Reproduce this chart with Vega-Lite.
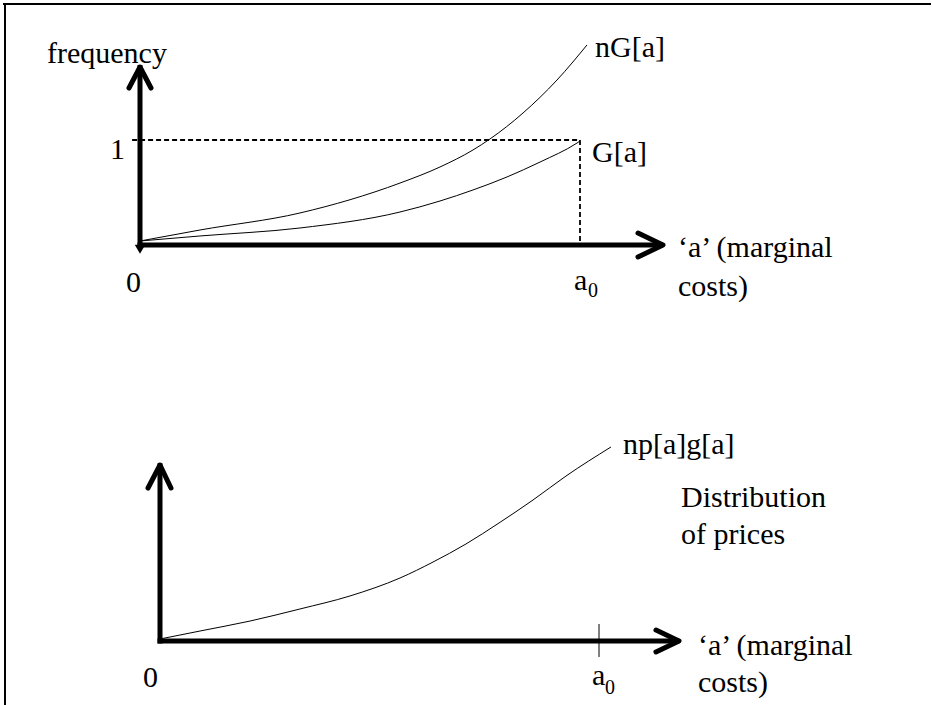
{
  "$schema": "https://vega.github.io/schema/vega-lite/v6.json",
  "usermeta": {"embedOptions": {"actions": false}},
  "padding": 0,
  "spacing": 0,
  "bounds": "flush",
  "background": "white",
  "config": {"view": {"stroke": null}, "text": {"font": "Liberation Serif"}},
  "resolve": {"scale": {"x": "independent", "y": "independent"}},
  "datasets": {
    "segs": [
      {"panel": "A", "kind": "frame", "x": -0.3114, "y": 2.29524, "x2": 1.7977, "y2": 2.29524},
      {"panel": "A", "kind": "frame", "x": -0.30682, "y": 2.305, "x2": -0.30682, "y2": -1.03},
      {"panel": "A", "kind": "axis", "x": 0, "y": 0, "x2": 0, "y2": 1.69},
      {"panel": "A", "kind": "axis", "x": 0, "y": 0, "x2": 1.183, "y2": 0},
      {"panel": "A", "kind": "guide", "x": -0.018, "y": 1, "x2": 1, "y2": 1},
      {"panel": "A", "kind": "guide", "x": 1, "y": 1, "x2": 1, "y2": 0},
      {"panel": "B", "kind": "frame", "x": -0.35308, "y": 2.77, "x2": -0.35308, "y2": -0.609},
      {"panel": "B", "kind": "axis", "x": 0, "y": 0, "x2": 0, "y2": 1.67},
      {"panel": "B", "kind": "axis", "x": 0, "y": 0, "x2": 1.177, "y2": 0},
      {"panel": "B", "kind": "tick", "x": 1, "y": 0.162, "x2": 1, "y2": -0.152}
    ],
    "arrows": [
      {"panel": "A", "arrow": "up", "order": 1, "x": -0.025, "y": 1.495},
      {"panel": "A", "arrow": "up", "order": 2, "x": 0, "y": 1.695},
      {"panel": "A", "arrow": "up", "order": 3, "x": 0.025, "y": 1.495},
      {"panel": "A", "arrow": "right", "order": 1, "x": 1.1318, "y": 0.114},
      {"panel": "A", "arrow": "right", "order": 2, "x": 1.1886, "y": 0},
      {"panel": "A", "arrow": "right", "order": 3, "x": 1.1318, "y": -0.114},
      {"panel": "B", "arrow": "up", "order": 1, "x": -0.0273, "y": 1.457},
      {"panel": "B", "arrow": "up", "order": 2, "x": 0, "y": 1.676},
      {"panel": "B", "arrow": "up", "order": 3, "x": 0.025, "y": 1.457},
      {"panel": "B", "arrow": "right", "order": 1, "x": 1.1298, "y": 0.1048},
      {"panel": "B", "arrow": "right", "order": 2, "x": 1.1822, "y": 0},
      {"panel": "B", "arrow": "right", "order": 3, "x": 1.1298, "y": -0.1048}
    ],
    "curves": [
      {"panel": "A", "curve": "nG", "x": 0, "y": 0.038},
      {"panel": "A", "curve": "nG", "x": 0.1364, "y": 0.143},
      {"panel": "A", "curve": "nG", "x": 0.3636, "y": 0.305},
      {"panel": "A", "curve": "nG", "x": 0.5909, "y": 0.59},
      {"panel": "A", "curve": "nG", "x": 0.6818, "y": 0.743},
      {"panel": "A", "curve": "nG", "x": 0.7568, "y": 0.905},
      {"panel": "A", "curve": "nG", "x": 0.7955, "y": 1.01},
      {"panel": "A", "curve": "nG", "x": 0.8705, "y": 1.257},
      {"panel": "A", "curve": "nG", "x": 0.9477, "y": 1.571},
      {"panel": "A", "curve": "nG", "x": 1.0159, "y": 1.905},
      {"panel": "A", "curve": "G", "x": 0, "y": 0.038},
      {"panel": "A", "curve": "G", "x": 0.1364, "y": 0.086},
      {"panel": "A", "curve": "G", "x": 0.3636, "y": 0.162},
      {"panel": "A", "curve": "G", "x": 0.5909, "y": 0.314},
      {"panel": "A", "curve": "G", "x": 0.6818, "y": 0.419},
      {"panel": "A", "curve": "G", "x": 0.7568, "y": 0.524},
      {"panel": "A", "curve": "G", "x": 0.8341, "y": 0.648},
      {"panel": "A", "curve": "G", "x": 0.9091, "y": 0.79},
      {"panel": "A", "curve": "G", "x": 0.9932, "y": 0.971},
      {"panel": "A", "curve": "G", "x": 1.0, "y": 0.99},
      {"panel": "B", "curve": "npg", "x": 0, "y": 0.019},
      {"panel": "B", "curve": "npg", "x": 0.0911, "y": 0.095},
      {"panel": "B", "curve": "npg", "x": 0.2050, "y": 0.190},
      {"panel": "B", "curve": "npg", "x": 0.3189, "y": 0.305},
      {"panel": "B", "curve": "npg", "x": 0.4328, "y": 0.429},
      {"panel": "B", "curve": "npg", "x": 0.5467, "y": 0.600},
      {"panel": "B", "curve": "npg", "x": 0.6219, "y": 0.752},
      {"panel": "B", "curve": "npg", "x": 0.697, "y": 0.924},
      {"panel": "B", "curve": "npg", "x": 0.7722, "y": 1.124},
      {"panel": "B", "curve": "npg", "x": 0.8497, "y": 1.343},
      {"panel": "B", "curve": "npg", "x": 0.9248, "y": 1.571},
      {"panel": "B", "curve": "npg", "x": 1.0273, "y": 1.848}
    ],
    "markers": [
      {"panel": "A", "x": 0, "y": -0.04}
    ],
    "labels": [
      {"panel": "A", "role": "main", "text": "frequency", "x": -0.2114, "y": 1.7333},
      {"panel": "A", "role": "main", "text": "1", "x": -0.068, "y": 0.819},
      {"panel": "A", "role": "main", "text": "0", "x": -0.0318, "y": -0.4476},
      {"panel": "A", "role": "main", "text": "a", "x": 0.9864, "y": -0.4286},
      {"panel": "A", "role": "sub", "text": "0", "x": 1.018, "y": -0.495},
      {"panel": "A", "role": "main", "text": "‘a’ (marginal", "x": 1.2227, "y": -0.1143},
      {"panel": "A", "role": "main", "text": "costs)", "x": 1.2227, "y": -0.4857},
      {"panel": "A", "role": "main", "text": "nG[a]", "x": 1.0341, "y": 1.79},
      {"panel": "A", "role": "main", "text": "G[a]", "x": 1.0273, "y": 0.7905},
      {"panel": "B", "role": "main", "text": "0", "x": -0.0387, "y": -0.438},
      {"panel": "B", "role": "main", "text": "a", "x": 0.984, "y": -0.419},
      {"panel": "B", "role": "sub", "text": "0", "x": 1.0137, "y": -0.505},
      {"panel": "B", "role": "main", "text": "‘a’ (marginal", "x": 1.2255, "y": -0.1333},
      {"panel": "B", "role": "main", "text": "costs)", "x": 1.2255, "y": -0.4857},
      {"panel": "B", "role": "main", "text": "np[a]g[a]", "x": 1.0547, "y": 1.781},
      {"panel": "B", "role": "main", "text": "Distribution", "x": 1.1868, "y": 1.276},
      {"panel": "B", "role": "main", "text": "of prices", "x": 1.1868, "y": 0.924}
    ]
  },
  "vconcat": [
    {
      "width": 932,
      "height": 352,
      "encoding": {
        "x": {"field": "x", "type": "quantitative", "axis": null, "scale": {"domain": [0, 1], "range": [140, 580], "zero": false, "nice": false}},
        "y": {"field": "y", "type": "quantitative", "axis": null, "scale": {"domain": [0, 1], "range": [245, 140], "zero": false, "nice": false}}
      },
      "layer": [
        {
          "data": {"name": "segs"},
          "transform": [{"filter": "datum.panel === 'A' && datum.kind === 'frame'"}],
          "mark": {"type": "rule", "color": "black", "strokeWidth": 2},
          "encoding": {"x2": {"field": "x2"}, "y2": {"field": "y2"}}
        },
        {
          "data": {"name": "segs"},
          "transform": [{"filter": "datum.panel === 'A' && datum.kind === 'guide'"}],
          "mark": {"type": "rule", "color": "black", "strokeWidth": 1.8, "strokeDash": [5, 3]},
          "encoding": {"x2": {"field": "x2"}, "y2": {"field": "y2"}}
        },
        {
          "data": {"name": "curves"},
          "transform": [{"filter": "datum.panel === 'A'"}],
          "mark": {"type": "line", "color": "black", "strokeWidth": 1, "interpolate": "monotone"},
          "encoding": {"detail": {"field": "curve"}}
        },
        {
          "data": {"name": "segs"},
          "transform": [{"filter": "datum.panel === 'A' && datum.kind === 'axis'"}],
          "mark": {"type": "rule", "color": "black", "strokeWidth": 5, "strokeCap": "square"},
          "encoding": {"x2": {"field": "x2"}, "y2": {"field": "y2"}}
        },
        {
          "data": {"name": "arrows"},
          "transform": [{"filter": "datum.panel === 'A'"}],
          "mark": {"type": "line", "color": "black", "strokeWidth": 5, "strokeCap": "round", "strokeJoin": "round"},
          "encoding": {"detail": {"field": "arrow"}, "order": {"field": "order"}}
        },
        {
          "data": {"name": "markers"},
          "transform": [{"filter": "datum.panel === 'A'"}],
          "mark": {"type": "point", "shape": "triangle-down", "filled": true, "color": "black", "size": 110, "opacity": 1}
        },
        {
          "data": {"name": "labels"},
          "transform": [{"filter": "datum.panel === 'A' && datum.role === 'main'"}],
          "mark": {"type": "text", "align": "left", "baseline": "alphabetic", "fontSize": 30, "color": "black", "font": "Liberation Serif"},
          "encoding": {"text": {"field": "text"}}
        },
        {
          "data": {"name": "labels"},
          "transform": [{"filter": "datum.panel === 'A' && datum.role === 'sub'"}],
          "mark": {"type": "text", "align": "left", "baseline": "alphabetic", "fontSize": 20, "color": "black", "font": "Liberation Serif"},
          "encoding": {"text": {"field": "text"}}
        }
      ]
    },
    {
      "width": 932,
      "height": 353,
      "encoding": {
        "x": {"field": "x", "type": "quantitative", "axis": null, "scale": {"domain": [0, 1], "range": [160, 599], "zero": false, "nice": false}},
        "y": {"field": "y", "type": "quantitative", "axis": null, "scale": {"domain": [0, 1], "range": [289, 184], "zero": false, "nice": false}}
      },
      "layer": [
        {
          "data": {"name": "segs"},
          "transform": [{"filter": "datum.panel === 'B' && datum.kind === 'frame'"}],
          "mark": {"type": "rule", "color": "black", "strokeWidth": 2},
          "encoding": {"x2": {"field": "x2"}, "y2": {"field": "y2"}}
        },
        {
          "data": {"name": "segs"},
          "transform": [{"filter": "datum.panel === 'B' && datum.kind === 'tick'"}],
          "mark": {"type": "rule", "color": "black", "strokeWidth": 1},
          "encoding": {"x2": {"field": "x2"}, "y2": {"field": "y2"}}
        },
        {
          "data": {"name": "curves"},
          "transform": [{"filter": "datum.panel === 'B'"}],
          "mark": {"type": "line", "color": "black", "strokeWidth": 1, "interpolate": "monotone"},
          "encoding": {"detail": {"field": "curve"}}
        },
        {
          "data": {"name": "segs"},
          "transform": [{"filter": "datum.panel === 'B' && datum.kind === 'axis'"}],
          "mark": {"type": "rule", "color": "black", "strokeWidth": 5, "strokeCap": "square"},
          "encoding": {"x2": {"field": "x2"}, "y2": {"field": "y2"}}
        },
        {
          "data": {"name": "arrows"},
          "transform": [{"filter": "datum.panel === 'B'"}],
          "mark": {"type": "line", "color": "black", "strokeWidth": 5, "strokeCap": "round", "strokeJoin": "round"},
          "encoding": {"detail": {"field": "arrow"}, "order": {"field": "order"}}
        },
        {
          "data": {"name": "labels"},
          "transform": [{"filter": "datum.panel === 'B' && datum.role === 'main'"}],
          "mark": {"type": "text", "align": "left", "baseline": "alphabetic", "fontSize": 30, "color": "black", "font": "Liberation Serif"},
          "encoding": {"text": {"field": "text"}}
        },
        {
          "data": {"name": "labels"},
          "transform": [{"filter": "datum.panel === 'B' && datum.role === 'sub'"}],
          "mark": {"type": "text", "align": "left", "baseline": "alphabetic", "fontSize": 20, "color": "black", "font": "Liberation Serif"},
          "encoding": {"text": {"field": "text"}}
        }
      ]
    }
  ]
}
